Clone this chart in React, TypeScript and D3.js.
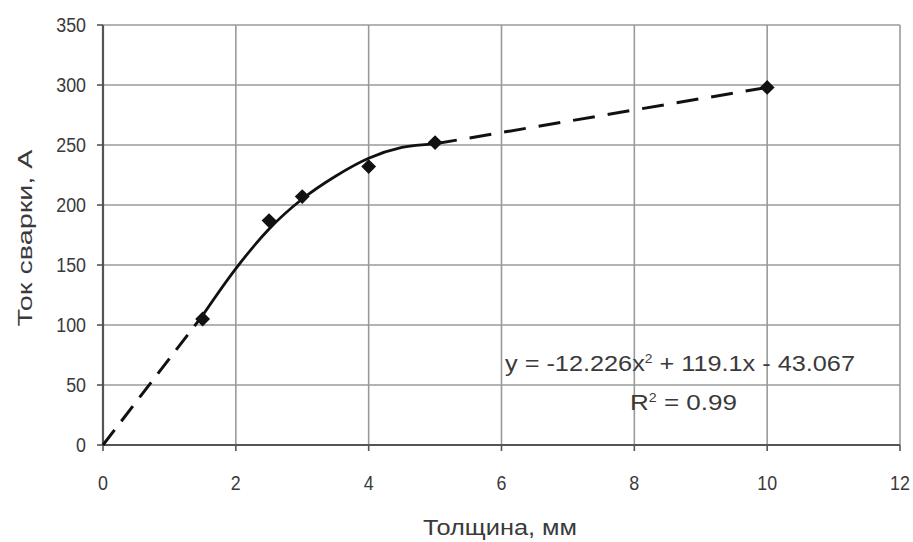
import React from "react";
import * as d3 from "d3";

const pointX = [1.5, 2.5, 3, 4, 5, 10];
const pointY = [105, 187, 207, 232, 252, 298];
const curveX = [1.5, 2, 2.5, 3, 3.5, 4, 4.5, 5];
const curveY = [108, 147, 180, 205, 224, 239, 248, 251];
const dashStartX = [0, 1.5];
const dashStartY = [0, 108];
const dashEndX = [5, 10];
const dashEndY = [251, 298];
const xTicks = [0, 2, 4, 6, 8, 10, 12];
const yTicks = [0, 50, 100, 150, 200, 250, 300, 350];

export default function App() {
  const W = 913, H = 542;
  const left = 103, right = 900, top = 25, bottom = 445;
  const x = d3.scaleLinear().domain([0, 12]).range([left, right]);
  const y = d3.scaleLinear().domain([0, 350]).range([bottom, top]);
  const line = d3.line<[number, number]>().x(d => x(d[0])).y(d => y(d[1]));
  const smooth = d3.line<[number, number]>().x(d => x(d[0])).y(d => y(d[1])).curve(d3.curveMonotoneX);
  const zip = (a: number[], b: number[]) => a.map((v, i) => [v, b[i]] as [number, number]);
  const font = "'Liberation Sans', Arial, sans-serif";
  const txt = "#3a3a3a";
  const grid = "#9a9a9a";
  const marker = d3.symbol(d3.symbolSquare, 110)() || "";
  return (
    <svg width={W} height={H} style={{ position: "absolute", left: 0, top: 0, background: "#fff" }} fontFamily={font}>
      <rect x={0} y={0} width={W} height={H} fill="#fff" />
      {xTicks.map(t => (
        <line key={"gx" + t} x1={x(t)} x2={x(t)} y1={top} y2={bottom} stroke={grid} strokeWidth={1.6} />
      ))}
      {yTicks.map(t => (
        <line key={"gy" + t} x1={left} x2={right} y1={y(t)} y2={y(t)} stroke={grid} strokeWidth={1.6} />
      ))}
      <line x1={left} x2={left} y1={top} y2={bottom + 1} stroke="#555" strokeWidth={2.2} />
      <line x1={left} x2={right} y1={bottom} y2={bottom} stroke="#555" strokeWidth={2.2} />
      {xTicks.map(t => (
        <line key={"tx" + t} x1={x(t)} x2={x(t)} y1={bottom} y2={bottom + 6} stroke="#555" strokeWidth={1.6} />
      ))}
      {yTicks.map(t => (
        <line key={"ty" + t} x1={left - 6} x2={left} y1={y(t)} y2={y(t)} stroke="#555" strokeWidth={1.6} />
      ))}
      {xTicks.map(t => (
        <text key={"lx" + t} x={x(t)} y={490} textAnchor="middle" fontSize={21} fill={txt} transform={`translate(${x(t)},0) scale(0.85,1) translate(${-x(t)},0)`}>{t}</text>
      ))}
      {yTicks.map(t => (
        <text key={"ly" + t} x={86} y={y(t) + 7} textAnchor="end" fontSize={21} fill={txt} transform={`translate(86,0) scale(0.85,1) translate(-86,0)`}>{t}</text>
      ))}
      <text x={423} y={535} fontSize={22} fill={txt} textLength={154} lengthAdjust="spacingAndGlyphs">Толщина, мм</text>
      <text transform={`translate(32, 238) rotate(-90)`} textAnchor="middle" fontSize={20} fill={txt} textLength={177} lengthAdjust="spacingAndGlyphs">Ток сварки, А</text>
      <path d={line(zip(dashStartX, dashStartY)) || ""} fill="none" stroke="#111" strokeWidth={3} strokeDasharray="19 11" />
      <path d={line(zip(dashEndX, dashEndY)) || ""} fill="none" stroke="#111" strokeWidth={3} strokeDasharray="22 13" />
      <path d={smooth(zip(curveX, curveY)) || ""} fill="none" stroke="#111" strokeWidth={2.8} />
      {pointX.map((px, i) => (
        <path key={"p" + i} d={marker} transform={`translate(${x(px)},${y(pointY[i])}) rotate(45)`} fill="#111" />
      ))}
      <text x={505} y={371} fontSize={22} fill={txt} textLength={350} lengthAdjust="spacingAndGlyphs">
        y = -12.226x<tspan dy={-8} fontSize={12}>2</tspan><tspan dy={8}> + 119.1x - 43.067</tspan>
      </text>
      <text x={630} y={410} fontSize={22} fill={txt} textLength={107} lengthAdjust="spacingAndGlyphs">
        R<tspan dy={-8} fontSize={12}>2</tspan><tspan dy={8}> = 0.99</tspan>
      </text>
    </svg>
  );
}
